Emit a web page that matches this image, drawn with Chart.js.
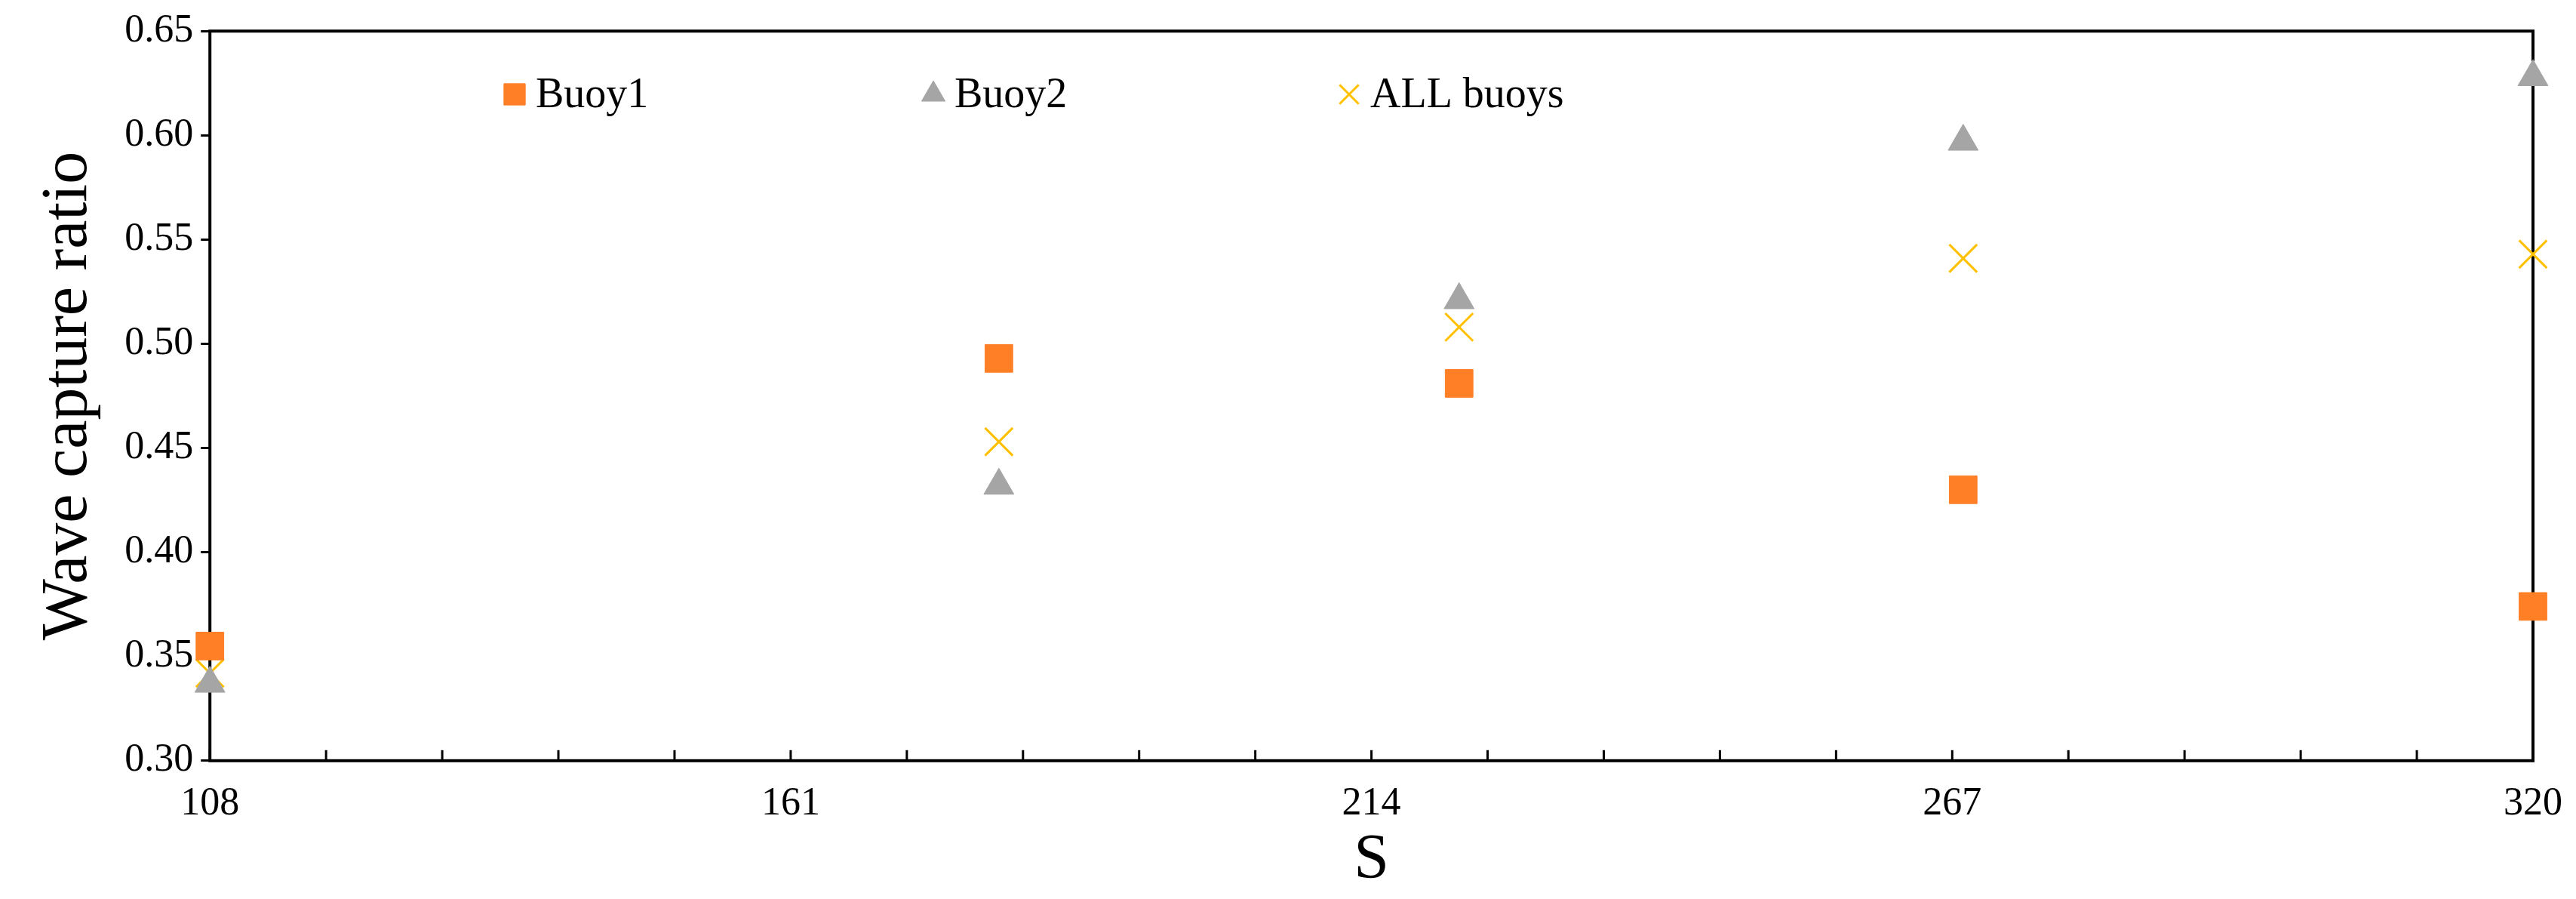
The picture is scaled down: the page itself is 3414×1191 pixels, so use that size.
<!DOCTYPE html>
<html><head><meta charset="utf-8">
<script src="https://cdn.jsdelivr.net/npm/chart.js@4/dist/chart.umd.min.js"></script>
<style>html,body{margin:0;padding:0;background:#fff}#w{width:3414px;height:1191px}</style>
</head><body><div id="w"><canvas id="c"></canvas></div>
<script>
const xValues = [108, 180, 222, 268, 320];
const buoy1 = [0.355, 0.493, 0.481, 0.430, 0.374];
const buoy2 = [0.337, 0.432, 0.521, 0.597, 0.628];
const allBuoys = [0.342, 0.453, 0.508, 0.541, 0.543];
const seriesNames = ['Buoy1', 'Buoy2', 'ALL buoys'];
const xTickLabels = [108, 161, 214, 267, 320];

const F = 'Liberation Serif, Times New Roman, serif';
const pts = (ys) => xValues.map((x, i) => ({x, y: ys[i]}));
const ds = [
  {label: seriesNames[0], data: pts(buoy1), pointStyle: 'rect', pointRadius: 26, backgroundColor: '#FF7F27', borderColor: '#FF7F27', borderWidth: 1, clip: false},
  {label: seriesNames[1], data: pts(buoy2), pointStyle: 'triangle', pointRadius: 23, backgroundColor: '#A5A5A5', borderColor: '#A5A5A5', borderWidth: 1, clip: false},
  {label: seriesNames[2], data: pts(allBuoys), pointStyle: 'crossRot', pointRadius: 26, backgroundColor: '#FFC000', borderColor: '#FFC000', borderWidth: 3, clip: false}
];

const extras = {
  id: 'extras',
  beforeDatasetsDraw(chart) {
    const ctx = chart.ctx, a = chart.chartArea, xs = chart.scales.x;
    ctx.save();
    ctx.strokeStyle = '#000'; ctx.lineWidth = 4;
    ctx.strokeRect(a.left, a.top, a.right - a.left, a.bottom - a.top);
    ctx.lineWidth = 3;
    for (let i = 0; i <= 20; i++) {
      const px = xs.getPixelForValue(108 + i * 10.6);
      ctx.beginPath(); ctx.moveTo(px, a.bottom); ctx.lineTo(px, a.bottom - 14); ctx.stroke();
    }
    const lx = [682, 1237, 1788], ly = 125;
    ctx.font = '56px ' + F; ctx.textBaseline = 'middle';
    ds.forEach((d, i) => {
      ctx.fillStyle = d.backgroundColor; ctx.strokeStyle = d.borderColor;
      ctx.lineWidth = d.borderWidth;
      Chart.helpers.drawPoint(ctx, {pointStyle: d.pointStyle, radius: d.pointStyle === 'rect' ? 20 : 18, borderWidth: d.borderWidth}, lx[i], ly);
      ctx.fillStyle = '#000';
      ctx.fillText(d.label, lx[i] + 28, ly + 2);
    });
    ctx.restore();
  }
};

new Chart(document.getElementById('c'), {
  type: 'scatter',
  data: {datasets: ds},
  options: {
    responsive: true, maintainAspectRatio: false, animation: false,
    layout: {padding: {left: 40, right: 44, top: 18, bottom: 0}},
    plugins: {legend: {display: false}, tooltip: {enabled: false}},
    scales: {
      x: {
        type: 'linear', min: 108, max: 320,
        afterBuildTicks: (s) => { s.ticks = xTickLabels.map(v => ({value: v})); },
        ticks: {color: '#000', font: {family: F, size: 52}, padding: 18, maxRotation: 0, autoSkip: false},
        grid: {display: false},
        border: {display: false},
        title: {display: true, text: 'S', color: '#000', font: {family: F, size: 84}, padding: {top: -24, bottom: 0}}
      },
      y: {
        min: 0.3, max: 0.65,
        ticks: {stepSize: 0.05, color: '#000', font: {family: F, size: 52}, padding: 10, callback: v => v.toFixed(2)},
        grid: {drawOnChartArea: false, tickLength: 12, color: '#000', lineWidth: 3},
        border: {display: false},
        title: {display: true, text: 'Wave capture ratio', color: '#000', font: {family: F, size: 86}, padding: {top: 0, bottom: 12}}
      }
    }
  },
  plugins: [extras]
});
</script></body></html>
